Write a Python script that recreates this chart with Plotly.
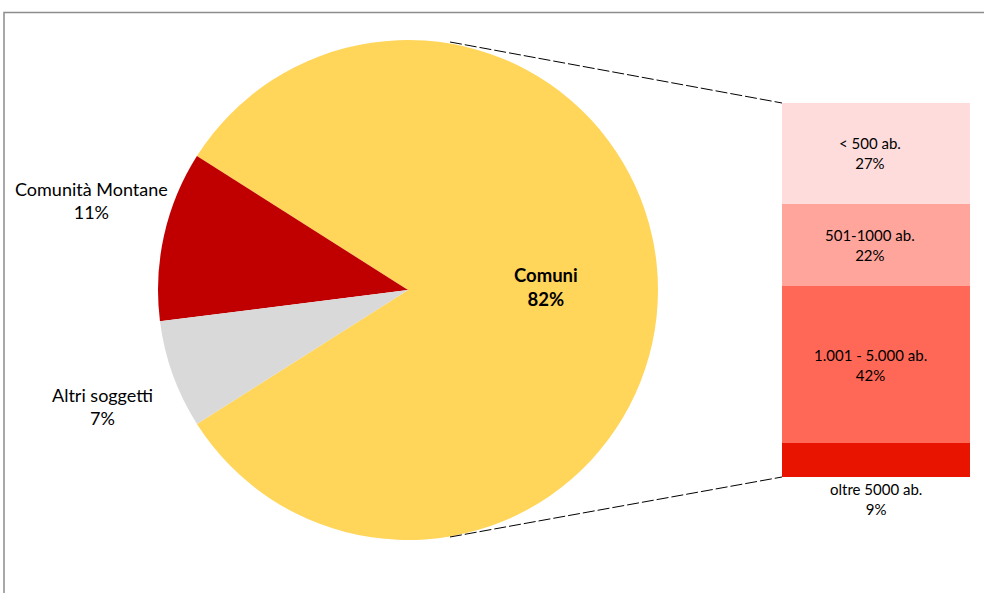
import plotly.graph_objects as go

# ---- data ----
pie_labels = ["Comuni", "Comunità Montane", "Altri soggetti"]
pie_values = [82, 11, 7]
pie_colors = ["#FFD55A", "#C00000", "#D9D9D9"]

bar_labels = ["oltre 5000 ab.", "1.001 - 5.000 ab.", "501-1000 ab.", "< 500 ab."]
bar_values = [9, 42, 22, 27]
bar_colors = ["#E81400", "#FF6757", "#FFA59B", "#FFDCDC"]

W, H = 984, 593
FONT = "Lato"

# geometry (pixels)
pcx, pcy, pr = 408, 290, 250
bx0, bx1, by0, by1 = 782, 970, 103, 477


def px(x):
    return x / W


def py(y):
    return 1 - y / H


fig = go.Figure()

rotation = 90 - 360 * pie_values[0] / sum(pie_values) / 2
fig.add_trace(go.Pie(
    labels=pie_labels, values=pie_values, sort=False,
    direction="counterclockwise", rotation=rotation,
    marker=dict(colors=pie_colors, line=dict(width=0)),
    textinfo="none", hoverinfo="label+percent", showlegend=False,
    domain=dict(x=[px(pcx - pr), px(pcx + pr)], y=[py(pcy + pr), py(pcy - pr)]),
))

for lab, val, col in zip(bar_labels, bar_values, bar_colors):
    fig.add_trace(go.Bar(
        x=[0], y=[val], name=lab, marker=dict(color=col, line=dict(width=0)),
        width=1, xaxis="x", yaxis="y", showlegend=False,
    ))

fig.update_layout(
    width=W, height=H, margin=dict(l=0, r=0, t=0, b=0),
    paper_bgcolor="white", plot_bgcolor="rgba(0,0,0,0)",
    barmode="stack", bargap=0,
    font=dict(family=FONT, color="black"),
    xaxis=dict(domain=[px(bx0), px(bx1)], range=[-0.5, 0.5], visible=False, fixedrange=True),
    yaxis=dict(domain=[py(by1), py(by0)], range=[0, sum(bar_values)], visible=False, fixedrange=True),
)

# labels for pie
ann = []
ann.append(dict(x=px(546), y=py(287), text=f"<b>{pie_labels[0]}<br>{pie_values[0]}%</b>",
                size=18.5))
ann.append(dict(x=px(91), y=py(200), text=f"{pie_labels[1]}<br>{pie_values[1]}%", size=18))
ann.append(dict(x=px(102), y=py(406), text=f"{pie_labels[2]}<br>{pie_values[2]}%", size=18))
for a in ann:
    fig.add_annotation(x=a["x"], y=a["y"], xref="paper", yref="paper", text=a["text"],
                       showarrow=False, font=dict(size=a["size"], family=FONT, color="black"),
                       xanchor="center", yanchor="middle", align="center")

# labels for bar (data-driven)
cum = 0
for lab, val in zip(bar_labels, bar_values):
    mid = cum + val / 2
    cum += val
    if val < 15:
        fig.add_annotation(x=0.0, y=0, xref="x", yref="y", text=f"{lab}<br>{val}%",
                           showarrow=False, yanchor="top", yshift=-1,
                           font=dict(size=15, family=FONT, color="black"))
    else:
        fig.add_annotation(x=-0.03, y=mid, xref="x", yref="y", text=f"{lab}<br>{val}%",
                           showarrow=False, font=dict(size=15, family=FONT, color="black"))

# connector lines
fig.add_shape(type="line", xref="paper", yref="paper", x0=px(450), y0=py(42), x1=px(bx0), y1=py(by0),
              line=dict(color="black", width=1, dash="12px,3px"))
fig.add_shape(type="line", xref="paper", yref="paper", x0=px(450), y0=py(537), x1=px(bx0), y1=py(by1),
              line=dict(color="black", width=1, dash="12px,3px"))

# outer frame (cropped)
fig.add_shape(type="rect", xref="paper", yref="paper", x0=px(4), y0=-0.1, x1=1.1, y1=py(12.5),
              line=dict(color="#8C8C8C", width=1.5), layer="below")

fig.write_html("out.html")
